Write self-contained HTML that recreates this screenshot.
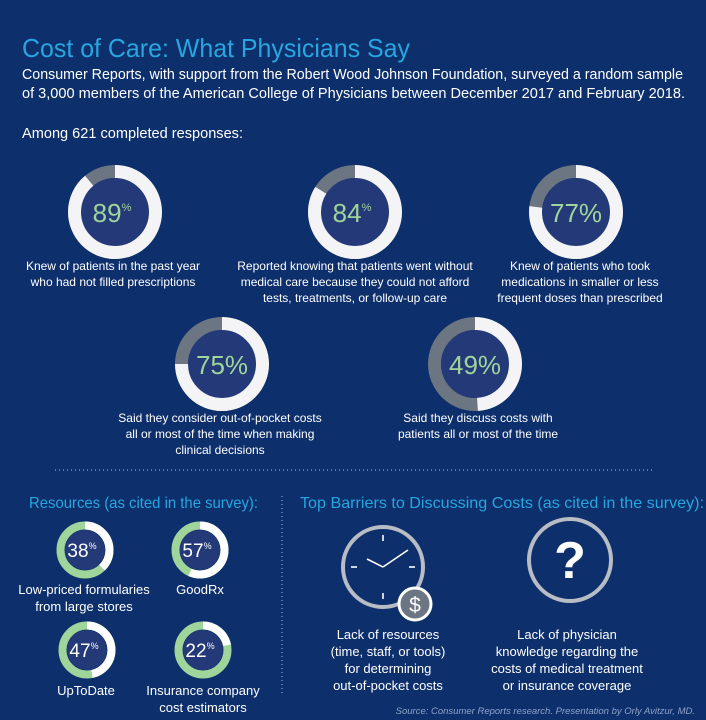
<!DOCTYPE html>
<html><head><meta charset="utf-8"><style>
html,body{margin:0;padding:0;background:#0d2f6c;}
svg{display:block;font-family:"Liberation Sans",sans-serif;}
</style></head><body>
<svg width="706" height="720" viewBox="0 0 706 720" xmlns="http://www.w3.org/2000/svg">
<rect width="706" height="720" fill="#0d2f6c"/>
<text x="22" y="57" fill="#27a6df" font-size="26" textLength="388" lengthAdjust="spacingAndGlyphs">Cost of Care: What Physicians Say</text>
<text x="22" y="79" fill="#fff" font-size="15" textLength="661" lengthAdjust="spacingAndGlyphs">Consumer Reports, with support from the Robert Wood Johnson Foundation, surveyed a random sample</text>
<text x="22" y="98" fill="#fff" font-size="15" textLength="663" lengthAdjust="spacingAndGlyphs">of 3,000 members of the American College of Physicians between December 2017 and February 2018.</text>
<text x="22" y="138" fill="#fff" font-size="15" textLength="221" lengthAdjust="spacingAndGlyphs">Among 621 completed responses:</text>

<defs>
<g id="big">
<circle r="40.5" fill="none" stroke="#6b7682" stroke-width="13"/>
<circle r="34" fill="#243a78"/>
</g>
</defs>

<!-- big donuts -->
<g transform="translate(115,212)">
<use href="#big"/>
<circle r="40.5" fill="none" stroke="#f4f4f6" stroke-width="13" pathLength="100" stroke-dasharray="89 100" transform="rotate(-90)"/>
<text x="-3" y="10" text-anchor="middle" fill="#9fd49a" font-size="26">89<tspan font-size="11" dy="-11">%</tspan></text>
</g>
<g transform="translate(355,212)">
<use href="#big"/>
<circle r="40.5" fill="none" stroke="#f4f4f6" stroke-width="13" pathLength="100" stroke-dasharray="84 100" transform="rotate(-90)"/>
<text x="-3" y="10" text-anchor="middle" fill="#9fd49a" font-size="26">84<tspan font-size="11" dy="-11">%</tspan></text>
</g>
<g transform="translate(576,212)">
<use href="#big"/>
<circle r="40.5" fill="none" stroke="#f4f4f6" stroke-width="13" pathLength="100" stroke-dasharray="77 100" transform="rotate(-90)"/>
<text x="0" y="10" text-anchor="middle" fill="#9fd49a" font-size="26">77%</text>
</g>
<g transform="translate(222,364)">
<use href="#big"/>
<circle r="40.5" fill="none" stroke="#f4f4f6" stroke-width="13" pathLength="100" stroke-dasharray="75 100" transform="rotate(-90)"/>
<text x="0" y="10" text-anchor="middle" fill="#9fd49a" font-size="26">75%</text>
</g>
<g transform="translate(475,364)">
<use href="#big"/>
<circle r="40.5" fill="none" stroke="#f4f4f6" stroke-width="13" pathLength="100" stroke-dasharray="49 100" transform="rotate(-90)"/>
<text x="0" y="10" text-anchor="middle" fill="#9fd49a" font-size="26">49%</text>
</g>

<g fill="#fff" font-size="12" text-anchor="middle">
<text x="113" y="270">Knew of patients in the  past year</text>
<text x="113" y="286">who had not filled prescriptions</text>
<text x="355" y="270">Reported knowing that patients went without</text>
<text x="355" y="286">medical care because they could not afford</text>
<text x="355" y="302">tests, treatments, or follow-up care</text>
<text x="580" y="270">Knew of patients who took</text>
<text x="580" y="286">medications in smaller or less</text>
<text x="580" y="302">frequent doses than prescribed</text>
<text x="220" y="422">Said they consider out-of-pocket costs</text>
<text x="220" y="438">all or most of the time when making</text>
<text x="220" y="454">clinical decisions</text>
<text x="478" y="422">Said they discuss costs with</text>
<text x="478" y="438">patients all or most of the time</text>
</g>

<line x1="55" y1="470" x2="652" y2="470" stroke="#8fa3c8" stroke-width="1.2" stroke-dasharray="1 3"/>
<line x1="282" y1="496" x2="282" y2="693" stroke="#8fa3c8" stroke-width="1.2" stroke-dasharray="1 3"/>

<text x="29" y="508" fill="#27a6df" font-size="16" textLength="229" lengthAdjust="spacingAndGlyphs">Resources (as cited in the survey):</text>
<text x="300" y="508" fill="#27a6df" font-size="16" textLength="404" lengthAdjust="spacingAndGlyphs">Top Barriers to Discussing Costs (as cited in the survey):</text>

<defs>
<g id="sm">
<circle r="24.5" fill="none" stroke="#9fd49a" stroke-width="8"/>
<circle r="20" fill="#243a78"/>
</g>
</defs>
<g transform="translate(85,550)">
<use href="#sm"/>
<circle r="24.5" fill="none" stroke="#fff" stroke-width="8" pathLength="100" stroke-dasharray="38 100" transform="rotate(-90)"/>
<text x="-3" y="7" text-anchor="middle" fill="#fff" font-size="19">38<tspan font-size="9" dy="-8">%</tspan></text>
</g>
<g transform="translate(200,550)">
<use href="#sm"/>
<circle r="24.5" fill="none" stroke="#fff" stroke-width="8" pathLength="100" stroke-dasharray="57 100" transform="rotate(-90)"/>
<text x="-3" y="7" text-anchor="middle" fill="#fff" font-size="19">57<tspan font-size="9" dy="-8">%</tspan></text>
</g>
<g transform="translate(87,650)">
<use href="#sm"/>
<circle r="24.5" fill="none" stroke="#fff" stroke-width="8" pathLength="100" stroke-dasharray="47 100" transform="rotate(-90)"/>
<text x="-3" y="7" text-anchor="middle" fill="#fff" font-size="19">47<tspan font-size="9" dy="-8">%</tspan></text>
</g>
<g transform="translate(203,650)">
<use href="#sm"/>
<circle r="24.5" fill="none" stroke="#fff" stroke-width="8" pathLength="100" stroke-dasharray="22 100" transform="rotate(-90)"/>
<text x="-3" y="7" text-anchor="middle" fill="#fff" font-size="19">22<tspan font-size="9" dy="-8">%</tspan></text>
</g>
<g fill="#fff" font-size="13" text-anchor="middle">
<text x="84" y="594">Low-priced formularies</text>
<text x="84" y="611">from large stores</text>
<text x="200" y="594">GoodRx</text>
<text x="86" y="695">UpToDate</text>
<text x="203" y="695">Insurance company</text>
<text x="203" y="712">cost estimators</text>
</g>

<!-- clock -->
<g transform="translate(383,567)">
<circle r="40" fill="#0d2f6c" stroke="#b8bcc4" stroke-width="4"/>
<g stroke="#fff" stroke-width="1.6">
<line x1="0" y1="-32" x2="0" y2="-26"/>
<line x1="0" y1="26" x2="0" y2="32"/>
<line x1="-32" y1="0" x2="-26" y2="0"/>
<line x1="26" y1="0" x2="32" y2="0"/>
<line x1="0" y1="0" x2="-16" y2="-8"/>
<line x1="0" y1="0" x2="25" y2="-17"/>
</g>
<circle cx="32" cy="37" r="16" fill="#6b7682" stroke="#fff" stroke-width="3"/>
<text x="32" y="45" text-anchor="middle" fill="#fff" font-size="21">$</text>
</g>
<g transform="translate(570,560)">
<circle r="41" fill="#0d2f6c" stroke="#b8bcc4" stroke-width="4"/>
<text x="0" y="18" text-anchor="middle" fill="#fff" font-size="52" font-weight="bold">?</text>
</g>
<g fill="#fff" font-size="13" text-anchor="middle">
<text x="388" y="639">Lack of resources</text>
<text x="388" y="656">(time, staff, or tools)</text>
<text x="388" y="673">for determining</text>
<text x="388" y="690">out-of-pocket costs</text>
<text x="567" y="639">Lack of physician</text>
<text x="567" y="656">knowledge regarding the</text>
<text x="567" y="673">costs of medical treatment</text>
<text x="567" y="690">or insurance coverage</text>
</g>
<text x="695" y="714" text-anchor="end" fill="#8fa3c8" font-size="9.5" font-style="italic">Source: Consumer Reports research. Presentation by Orly Avitzur, MD.</text>
</svg>
</body></html>
